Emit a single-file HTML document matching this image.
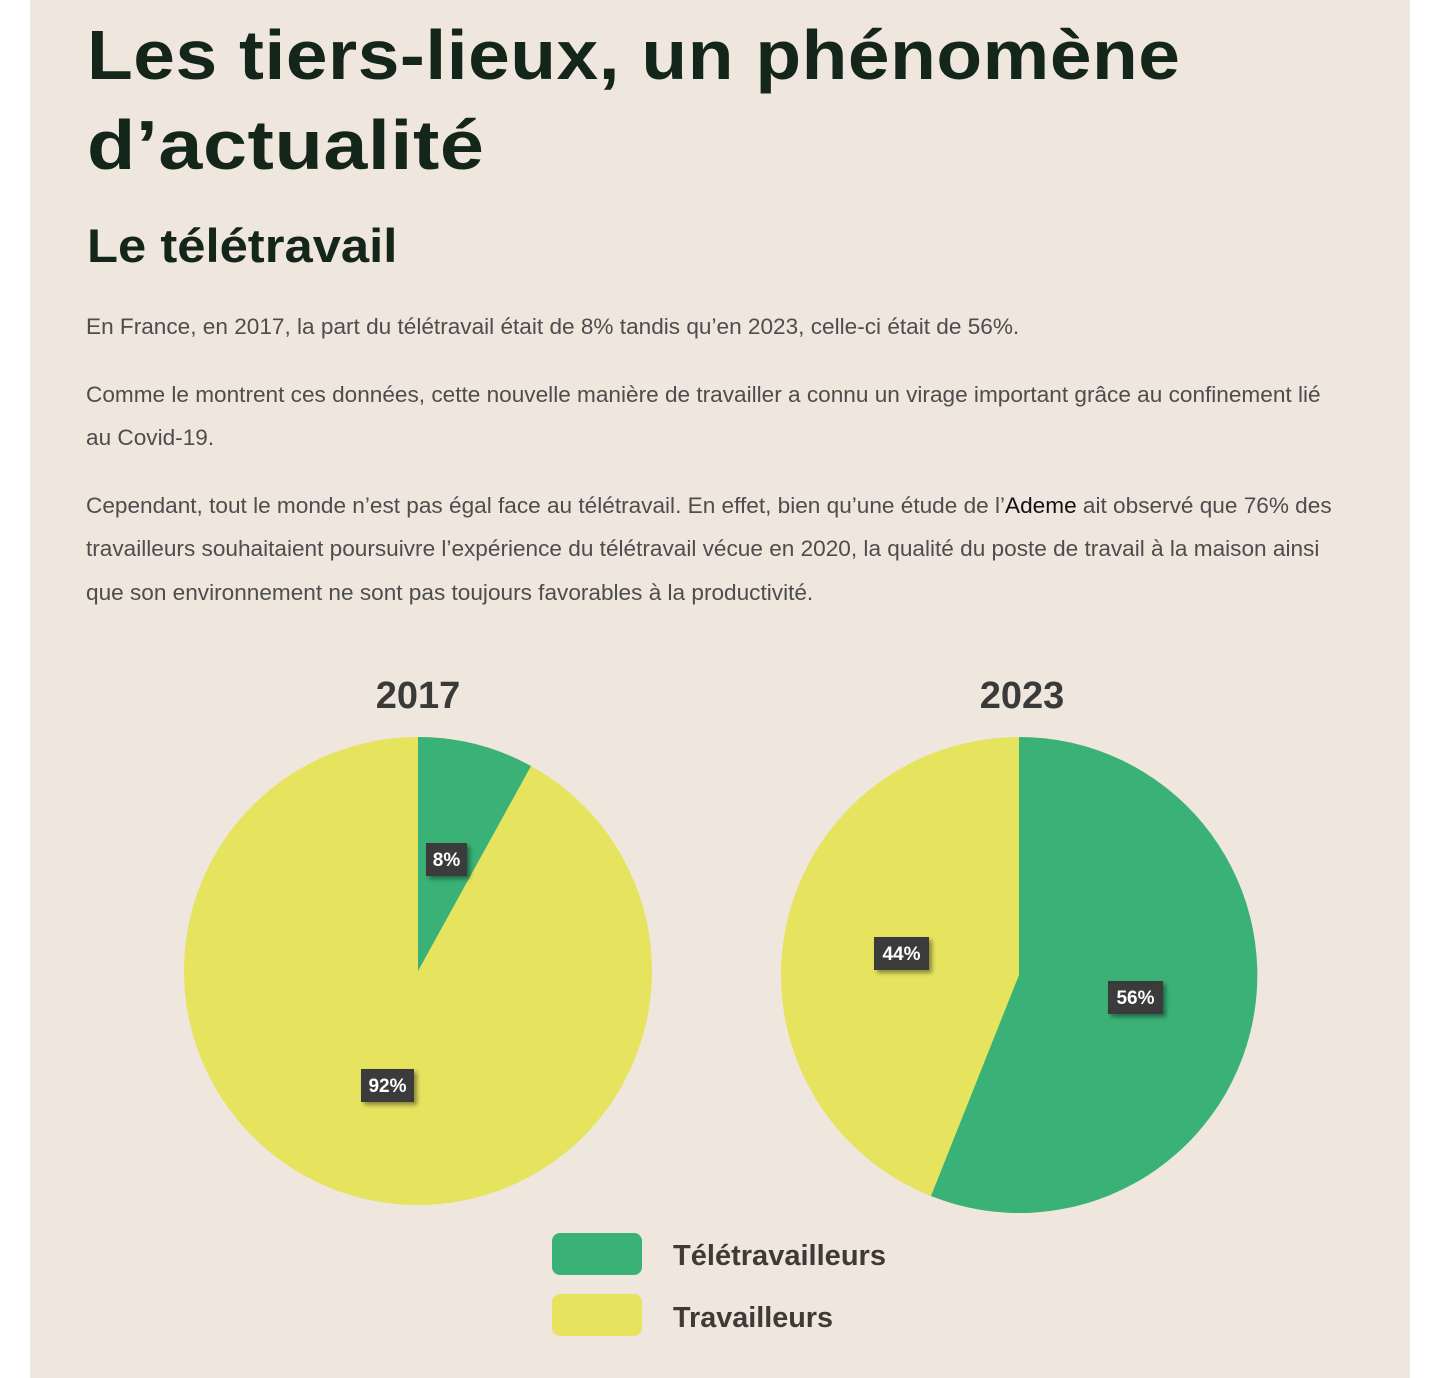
<!DOCTYPE html>
<html><head><meta charset="utf-8"><style>
html,body{margin:0;padding:0;background:#fff;width:1440px;height:1378px;overflow:hidden}
.panel{position:absolute;left:30px;top:0;width:1380px;height:1378px;background:#EFE6DD}
.t{position:absolute;left:87px;margin:0;white-space:nowrap;color:#14261A;font-family:"Liberation Sans",sans-serif;font-weight:bold;transform-origin:0 0}
.p{position:absolute;left:86px;margin:0;white-space:nowrap;color:#4d4d4d;font-family:"Liberation Sans",sans-serif;font-size:22.6px}
</style></head><body>
<div class="panel"></div>
<div class="t" style="top:10px;font-size:70px;letter-spacing:0.5px;line-height:90px;transform:scaleX(1.07)">Les tiers-lieux, un phénomène</div>
<div class="t" style="top:100px;font-size:70px;letter-spacing:0.5px;line-height:90px;transform:scaleX(1.13)">d’actualité</div>
<div class="t" style="top:218px;font-size:47px;line-height:56px;transform:scaleX(1.08)">Le télétravail</div>
<div class="p" style="top:314px">En France, en 2017, la part du télétravail était de 8% tandis qu’en 2023, celle-ci était de 56%.</div>
<div class="p" style="top:382px">Comme le montrent ces données, cette nouvelle manière de travailler a connu un virage important grâce au confinement lié</div>
<div class="p" style="top:425px">au Covid-19.</div>
<div class="p" style="top:493px">Cependant, tout le monde n’est pas égal face au télétravail. En effet, bien qu’une étude de l’<span style="color:#111">Ademe</span> ait observé que 76% des</div>
<div class="p" style="top:536px">travailleurs souhaitaient poursuivre l’expérience du télétravail vécue en 2020, la qualité du poste de travail à la maison ainsi</div>
<div class="p" style="top:580px">que son environnement ne sont pas toujours favorables à la productivité.</div>
<svg style="position:absolute;left:0;top:0" width="1440" height="1378" font-family="Liberation Sans, sans-serif" font-weight="bold">
<defs><filter id="sh" x="-30%" y="-30%" width="170%" height="170%"><feDropShadow dx="3" dy="3" stdDeviation="2" flood-color="#000" flood-opacity="0.4"/></filter></defs>
<text x="418" y="708" font-size="38" fill="#3a3a3a" text-anchor="middle">2017</text>
<text x="1022" y="708" font-size="38" fill="#3a3a3a" text-anchor="middle">2023</text>
<circle cx="418" cy="971" r="234" fill="#E6E35E"/>
<path d="M418 971 L418 737 A234 234 0 0 1 531 766 Z" fill="#3AB176"/>
<circle cx="1019" cy="975" r="238" fill="#E6E35E"/>
<path d="M1019 975 L1019 737 A238 238 0 1 1 931 1196 Z" fill="#3AB176"/>
<g font-size="19" fill="#fff" text-anchor="middle">
<rect x="426" y="843" width="41" height="33" fill="#3a3a3a" filter="url(#sh)"/><text x="446.5" y="866">8%</text>
<rect x="361" y="1069" width="53" height="33" fill="#3a3a3a" filter="url(#sh)"/><text x="387.5" y="1092">92%</text>
<rect x="874" y="937" width="55" height="33" fill="#3a3a3a" filter="url(#sh)"/><text x="901.5" y="960">44%</text>
<rect x="1108" y="981" width="55" height="33" fill="#3a3a3a" filter="url(#sh)"/><text x="1135.5" y="1004">56%</text>
</g>
<rect x="552" y="1233" width="90" height="42" rx="8" fill="#3AB176"/>
<rect x="552" y="1294" width="90" height="42" rx="8" fill="#E6E35E"/>
<text x="673" y="1265" font-size="29" fill="#403a36" textLength="213" lengthAdjust="spacingAndGlyphs">Télétravailleurs</text>
<text x="673" y="1327" font-size="29" fill="#403a36" textLength="160" lengthAdjust="spacingAndGlyphs">Travailleurs</text>
</svg>
</body></html>
